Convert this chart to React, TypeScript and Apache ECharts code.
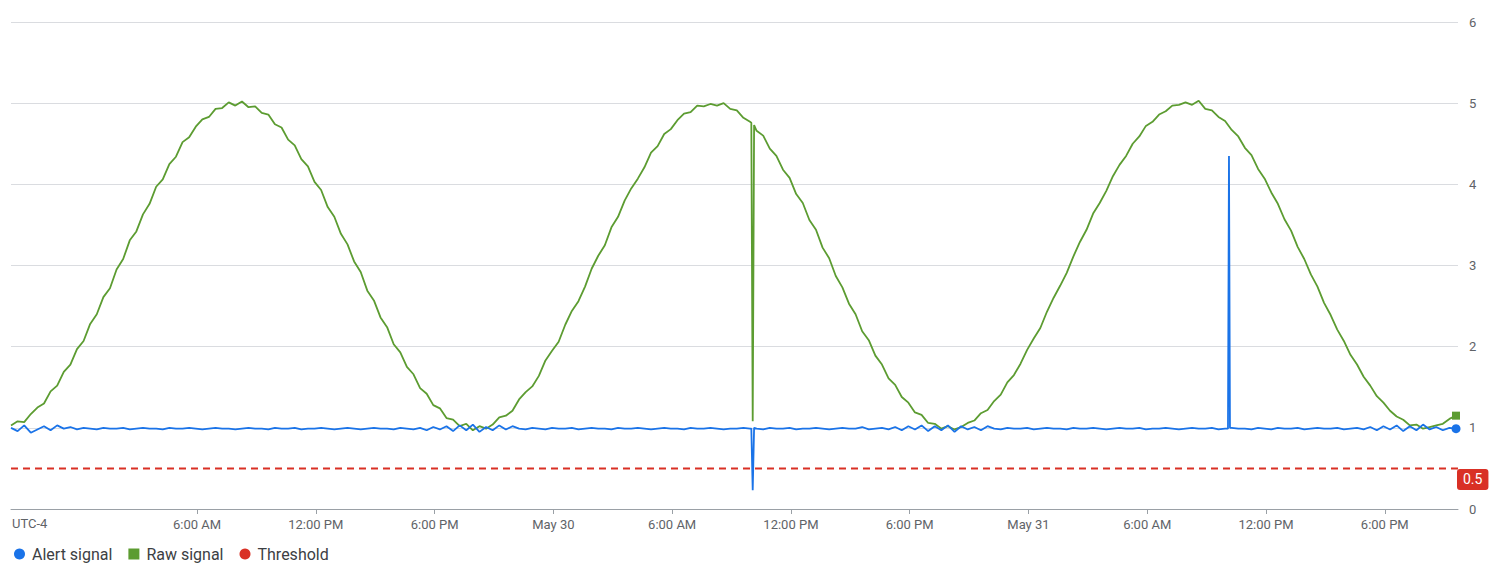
import React, { useEffect, useRef } from "react";
import * as echarts from "echarts";

// Time is expressed in hours relative to May 29, 00:00 (UTC-4)
const X_MIN = -3.4;
const X_MAX = 69.7;
const SAMPLE_START = -3.4;
const SAMPLE_STEP = 1 / 3; // 20 minutes

const tickHours = [6, 12, 18, 24, 30, 36, 42, 48, 54, 60, 66];
const tickLabels = [
  "6:00 AM", "12:00 PM", "6:00 PM", "May 30",
  "6:00 AM", "12:00 PM", "6:00 PM", "May 31",
  "6:00 AM", "12:00 PM", "6:00 PM",
];

const rawSignal = [
  1.03, 1.08, 1.07, 1.17, 1.25, 1.30, 1.45, 1.52, 1.69, 1.78,
  1.97, 2.07, 2.28, 2.40, 2.61, 2.72, 2.95, 3.08, 3.31, 3.42,
  3.63, 3.76, 3.97, 4.06, 4.25, 4.34, 4.52, 4.58, 4.71, 4.80,
  4.83, 4.93, 4.94, 5.01, 4.97, 5.02, 4.95, 4.96, 4.88, 4.86,
  4.74, 4.70, 4.55, 4.48, 4.31, 4.22, 4.03, 3.93, 3.72, 3.60,
  3.39, 3.26, 3.05, 2.92, 2.69, 2.57, 2.36, 2.24, 2.03, 1.93,
  1.75, 1.66, 1.49, 1.42, 1.28, 1.24, 1.12, 1.10, 1.02, 1.05,
  0.97, 1.02, 0.99, 1.04, 1.13, 1.15, 1.21, 1.35, 1.44, 1.51,
  1.64, 1.83, 1.95, 2.06, 2.27, 2.44, 2.56, 2.74, 2.96, 3.12,
  3.25, 3.47, 3.60, 3.80, 3.95, 4.07, 4.21, 4.39, 4.47, 4.62,
  4.68, 4.79, 4.87, 4.89, 4.97, 4.96, 4.99, 4.97, 5.00, 4.93,
  4.91, 4.82, 4.77, 4.66, 4.60, 4.44, 4.35, 4.18, 4.08, 3.88,
  3.77, 3.56, 3.44, 3.22, 3.09, 2.87, 2.73, 2.53, 2.40, 2.19,
  2.08, 1.89, 1.78, 1.61, 1.53, 1.38, 1.31, 1.19, 1.16, 1.06,
  1.05, 0.99, 1.02, 0.98, 1.01, 1.06, 1.09, 1.18, 1.22, 1.33,
  1.41, 1.56, 1.65, 1.79, 1.96, 2.10, 2.23, 2.43, 2.60, 2.75,
  2.91, 3.11, 3.29, 3.44, 3.64, 3.77, 3.92, 4.10, 4.24, 4.35,
  4.50, 4.59, 4.72, 4.77, 4.86, 4.90, 4.97, 4.98, 5.01, 4.98,
  5.03, 4.93, 4.91, 4.83, 4.78, 4.67, 4.59, 4.45, 4.36, 4.19,
  4.07, 3.90, 3.76, 3.57, 3.43, 3.23, 3.08, 2.89, 2.74, 2.54,
  2.39, 2.21, 2.07, 1.90, 1.78, 1.63, 1.52, 1.39, 1.31, 1.21,
  1.14, 1.10, 1.03, 1.04, 0.99, 1.01, 1.03, 1.05, 1.11, 1.15,
];

const alertSignal = [
  1.00, 0.96, 1.03, 0.94, 0.98, 1.02, 0.97, 1.03, 0.99, 1.01,
  0.98, 1.00, 0.99, 0.98, 1.00, 0.99, 0.99, 1.00, 0.98, 0.99,
  1.00, 0.99, 0.99, 0.98, 1.00, 0.99, 0.99, 1.00, 0.99, 0.98,
  0.99, 1.00, 0.99, 0.99, 0.98, 0.99, 1.00, 0.99, 0.99, 0.98,
  1.00, 0.99, 0.99, 1.00, 0.98, 0.99, 0.99, 1.00, 0.99, 0.98,
  0.99, 1.00, 0.99, 0.98, 0.99, 1.00, 0.99, 0.99, 0.98, 1.00,
  0.99, 0.98, 1.00, 0.97, 1.01, 0.98, 1.02, 0.96, 1.03, 0.97,
  1.04, 0.95, 1.01, 0.97, 1.03, 0.98, 1.02, 0.99, 0.98, 1.00,
  0.99, 0.98, 1.00, 0.99, 0.99, 1.00, 0.98, 0.99, 1.00, 0.99,
  0.99, 0.98, 1.00, 0.99, 0.99, 1.00, 0.99, 0.98, 0.99, 1.00,
  0.99, 0.99, 0.98, 1.00, 0.99, 0.99, 1.00, 0.99, 0.98, 0.99,
  0.99, 1.00, 0.99, 0.99, 0.98, 1.00, 0.99, 0.99, 1.00, 0.98,
  0.99, 0.99, 1.00, 0.99, 0.98, 0.99, 1.00, 0.99, 0.99, 1.01,
  0.98, 0.99, 1.00, 0.98, 1.01, 0.97, 1.02, 0.98, 1.03, 0.96,
  1.02, 0.97, 1.03, 0.95, 1.02, 0.98, 1.01, 0.97, 1.02, 0.99,
  0.98, 1.00, 0.99, 0.99, 1.00, 0.98, 0.99, 1.00, 0.99, 0.99,
  0.98, 1.00, 0.99, 0.99, 1.00, 0.99, 0.98, 0.99, 1.00, 0.99,
  0.99, 1.00, 0.98, 0.99, 0.99, 1.00, 0.99, 0.98, 0.99, 1.00,
  0.99, 0.99, 1.00, 0.98, 0.99, 1.00, 0.99, 0.99, 0.98, 1.00,
  0.99, 0.98, 1.00, 0.99, 0.99, 1.00, 0.98, 0.99, 1.00, 0.99,
  0.99, 1.00, 0.98, 0.99, 1.00, 0.98, 1.01, 0.97, 1.02, 0.98,
  1.03, 0.96, 1.02, 0.97, 1.04, 0.98, 1.01, 0.97, 1.00, 0.99,
];

// Short glitches sampled between the regular points
const rawGlitchHours = [34.0, 34.07, 34.14];
const rawGlitchValues = [4.76, 1.08, 4.73];
const alertGlitchHours = [34.0, 34.07, 34.14, 58.08, 58.13, 58.18];
const alertGlitchValues = [0.99, 0.23, 1.0, 0.99, 4.35, 1.0];

const thresholdValue = 0.5;

const BLUE = "#1a73e8";
const GREEN = "#5c9c31";
const RED = "#d93025";
const AXIS_TEXT = "#5f6368";

function buildPoints(values: number[], extraT: number[], extraV: number[]) {
  const pts: [number, number][] = values.map((v, i) => [SAMPLE_START + i * SAMPLE_STEP, v]);
  extraT.forEach((t, i) => pts.push([t, extraV[i]]));
  pts.sort((a, b) => a[0] - b[0]);
  return pts;
}

export default function App() {
  const ref = useRef<HTMLDivElement>(null);

  useEffect(() => {
    document.body.style.margin = "0";
    if (!ref.current) return;
    const chart = echarts.init(ref.current, undefined, { renderer: "svg" });

    const rawPts = buildPoints(rawSignal, rawGlitchHours, rawGlitchValues);
    const alertPts = buildPoints(alertSignal, alertGlitchHours, alertGlitchValues);
    const lastRaw = rawPts[rawPts.length - 1];
    const lastAlert = alertPts[alertPts.length - 1];

    chart.setOption({
      animation: false,
      textStyle: { fontFamily: "Roboto, 'Noto Sans', sans-serif" },
      grid: { left: 11, right: 42, top: 22, bottom: 65, containLabel: false },
      legend: {
        left: 9,
        top: 541,
        itemWidth: 11,
        itemHeight: 11,
        itemGap: 16,
        textStyle: { fontSize: 16, color: "#3c4043", padding: [0, 0, 0, 2] },
        data: [
          { name: "Alert signal", icon: "circle" },
          { name: "Raw signal", icon: "rect" },
          { name: "Threshold", icon: "circle" },
        ],
      },
      xAxis: {
        type: "value",
        min: X_MIN,
        max: X_MAX,
        splitLine: { show: false },
        axisLine: { show: true, lineStyle: { color: "#9aa0a6", width: 1 } },
        axisTick: {
          show: true,
          length: 5,
          customValues: tickHours,
          lineStyle: { color: "#9aa0a6" },
        },
        axisLabel: {
          customValues: tickHours,
          color: AXIS_TEXT,
          fontSize: 13,
          margin: 9,
          formatter: (v: number) => {
            const idx = tickHours.findIndex((h) => Math.abs(h - v) < 1e-6);
            return idx >= 0 ? tickLabels[idx] : "";
          },
        },
      },
      yAxis: {
        type: "value",
        position: "right",
        min: 0,
        max: 6,
        interval: 1,
        axisLine: { show: false },
        axisTick: { show: false },
        splitLine: { lineStyle: { color: "#dadce0", width: 1 } },
        axisLabel: { color: AXIS_TEXT, fontSize: 13, margin: 11 },
      },
      graphic: [
        {
          type: "text",
          left: 12,
          top: 517,
          style: { text: "UTC-4", fill: AXIS_TEXT, fontSize: 13, fontFamily: "Roboto" },
        },
      ],
      series: [
        {
          name: "Alert signal",
          type: "line",
          data: alertPts,
          symbol: "none",
          color: BLUE,
          lineStyle: { color: BLUE, width: 1.8 },
          z: 3,
          markPoint: {
            symbol: "circle",
            symbolSize: 9,
            label: { show: false },
            itemStyle: { color: BLUE },
            data: [{ coord: lastAlert }],
          },
        },
        {
          name: "Raw signal",
          type: "line",
          data: rawPts,
          symbol: "none",
          color: GREEN,
          lineStyle: { color: GREEN, width: 1.8 },
          z: 2,
          markPoint: {
            symbol: "rect",
            symbolSize: 8,
            label: { show: false },
            itemStyle: { color: GREEN },
            data: [{ coord: lastRaw }],
          },
        },
        {
          name: "Threshold",
          type: "line",
          data: [
            [X_MIN, thresholdValue],
            [X_MAX, thresholdValue],
          ],
          symbol: "none",
          color: RED,
          lineStyle: { color: RED, width: 2, type: [7, 5] },
          z: 4,
          endLabel: {
            show: true,
            formatter: String(thresholdValue),
            backgroundColor: RED,
            color: "#ffffff",
            fontSize: 14,
            padding: [4, 6, 3, 6],
            borderRadius: 3,
            distance: 0,
            offset: [-1, 11],
          },
        },
      ],
    });

    return () => chart.dispose();
  }, []);

  return <div ref={ref} style={{ width: 1500, height: 574 }} />;
}
